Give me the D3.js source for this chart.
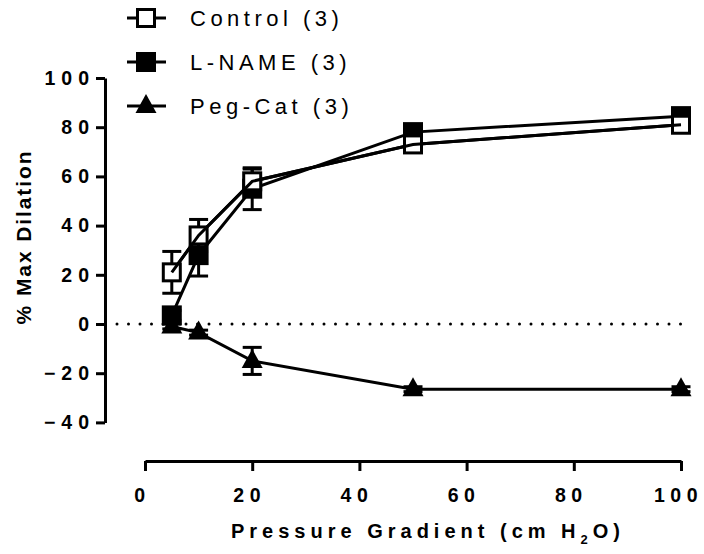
<!DOCTYPE html>
<html><head><meta charset="utf-8">
<script src="https://cdn.jsdelivr.net/npm/d3@7"></script>
<style>body{margin:0;background:#fff}svg{display:block}</style>
</head><body><div id="chart"></div>
<script>
const xValues = [5, 10, 20, 50, 100];
const seriesNames = ["Control (3)", "L-NAME (3)", "Peg-Cat (3)"];
const controlMean = [21, 36, 58, 73, 81];
const controlErr = [8.5, 6.5, 5, 2, 2];
const lnameMean = [3.5, 28, 55, 78, 84.5];
const lnameErr = [2, 8.5, 8.5, 2, 2];
const pegcatMean = [-1, -3.5, -15, -26.5, -26.5];
const pegcatErr = [1, 1, 5.5, 1, 1];
const xTicks = [0, 20, 40, 60, 80, 100];
const yTicks = [-40, -20, 0, 20, 40, 60, 80, 100];

const W = 704, H = 554;
const svg = d3.select("#chart").append("svg").attr("width", W).attr("height", H);
const x = d3.scaleLinear().domain([0, 100]).range([145, 681]);
const y = d3.scaleLinear().domain([-40, 100]).range([422.4, 78]);
const font = "Liberation Sans, Arial, sans-serif";

// Y axis
const yAxis = svg.append("g").attr("transform", "translate(105,0)")
  .call(d3.axisLeft(y).tickValues(yTicks).tickSize(9).tickPadding(1).tickSizeOuter(0));
yAxis.select(".domain").attr("stroke-width", 3).attr("stroke", "#000");
yAxis.selectAll(".tick line").attr("stroke-width", 3).attr("stroke", "#000");
yAxis.selectAll(".tick text").attr("font-family", font).attr("font-size", 19.5).attr("font-weight", "bold")
  .attr("letter-spacing", "6px").attr("fill", "#000");

// X axis
const xAxis = svg.append("g").attr("transform", "translate(0,461)")
  .call(d3.axisBottom(x).tickValues(xTicks).tickSize(10).tickPadding(17).tickSizeOuter(0));
xAxis.select(".domain").attr("stroke-width", 3).attr("stroke", "#000");
xAxis.selectAll(".tick line").attr("stroke-width", 3).attr("stroke", "#000");
xAxis.selectAll(".tick text").attr("font-family", font).attr("font-size", 19.5).attr("font-weight", "bold")
  .attr("letter-spacing", "5.5px").attr("dx", "-3px").attr("fill", "#000");

// zero dotted line
svg.append("line").attr("x1", 117).attr("x2", 681).attr("y1", y(0)).attr("y2", y(0))
  .attr("stroke", "#000").attr("stroke-width", 3).attr("stroke-linecap", "round")
  .attr("stroke-dasharray", "0 11.5");

// Axis titles
svg.append("text").attr("transform", `translate(31,${237}) rotate(-90)`)
  .attr("text-anchor", "middle").attr("font-family", font).attr("font-size", 21)
  .attr("font-weight", "bold").attr("letter-spacing", "1.9px").text("% Max Dilation");
const xt = svg.append("text").attr("x", 428).attr("y", 538).attr("text-anchor", "middle")
  .attr("font-family", font).attr("font-size", 20).attr("font-weight", "bold").attr("letter-spacing", "5px");
xt.append("tspan").text("Pressure Gradient (cm H");
xt.append("tspan").attr("font-size", 13).attr("dy", 6).text("2");
xt.append("tspan").attr("dy", -6).text("O)");

const series = [
  {name: seriesNames[0], mean: controlMean, err: controlErr, shape: "openSquare"},
  {name: seriesNames[1], mean: lnameMean, err: lnameErr, shape: "square"},
  {name: seriesNames[2], mean: pegcatMean, err: pegcatErr, shape: "triangle"}
];

const line = d3.line().x(d => x(d[0])).y(d => y(d[1]));

function drawMarker(g, shape, cx, cy) {
  if (shape === "openSquare") {
    g.append("rect").attr("x", cx - 8.5).attr("y", cy - 8.5).attr("width", 17).attr("height", 17)
      .attr("fill", "#fff").attr("stroke", "#000").attr("stroke-width", 3);
  } else if (shape === "square") {
    g.append("rect").attr("x", cx - 10).attr("y", cy - 10).attr("width", 20).attr("height", 20).attr("fill", "#000");
  } else {
    g.append("path").attr("d", `M${cx},${cy - 12}L${cx + 10.5},${cy + 7}L${cx - 10.5},${cy + 7}Z`).attr("fill", "#000");
  }
}

const order = [2, 1, 0];
order.forEach(i => {
  const s = series[i];
  const g = svg.append("g");
  const pts = xValues.map((xv, j) => [xv, s.mean[j]]);
  xValues.forEach((xv, j) => {
    const cx = x(xv), e = s.err[j];
    const top = y(s.mean[j] + e), bot = y(s.mean[j] - e);
    g.append("line").attr("x1", cx).attr("x2", cx).attr("y1", top).attr("y2", bot).attr("stroke", "#000").attr("stroke-width", 3);
    [top, bot].forEach(yy => g.append("line").attr("x1", cx - 9.5).attr("x2", cx + 9.5).attr("y1", yy).attr("y2", yy)
      .attr("stroke", "#000").attr("stroke-width", 3));
  });
  g.append("path").attr("d", line(pts)).attr("fill", "none").attr("stroke", "#000").attr("stroke-width", 3);
  pts.forEach(p => drawMarker(g, s.shape, x(p[0]), y(p[1])));
});
svg.append("path").attr("d", line(xValues.map((xv, j) => [xv, controlMean[j]])))
  .attr("fill", "none").attr("stroke", "#000").attr("stroke-width", 3);

// Legend
const legY = [18, 62, 106];
series.forEach((s, i) => {
  const g = svg.append("g");
  g.append("line").attr("x1", 127).attr("x2", 166).attr("y1", legY[i]).attr("y2", legY[i]).attr("stroke", "#000").attr("stroke-width", 3);
  drawMarker(g, s.shape, 146, legY[i]);
  g.append("text").attr("x", 190).attr("y", legY[i] + 8).attr("font-family", font).attr("font-size", 22)
    .attr("letter-spacing", "4.5px").text(s.name);
});
</script></body></html>
